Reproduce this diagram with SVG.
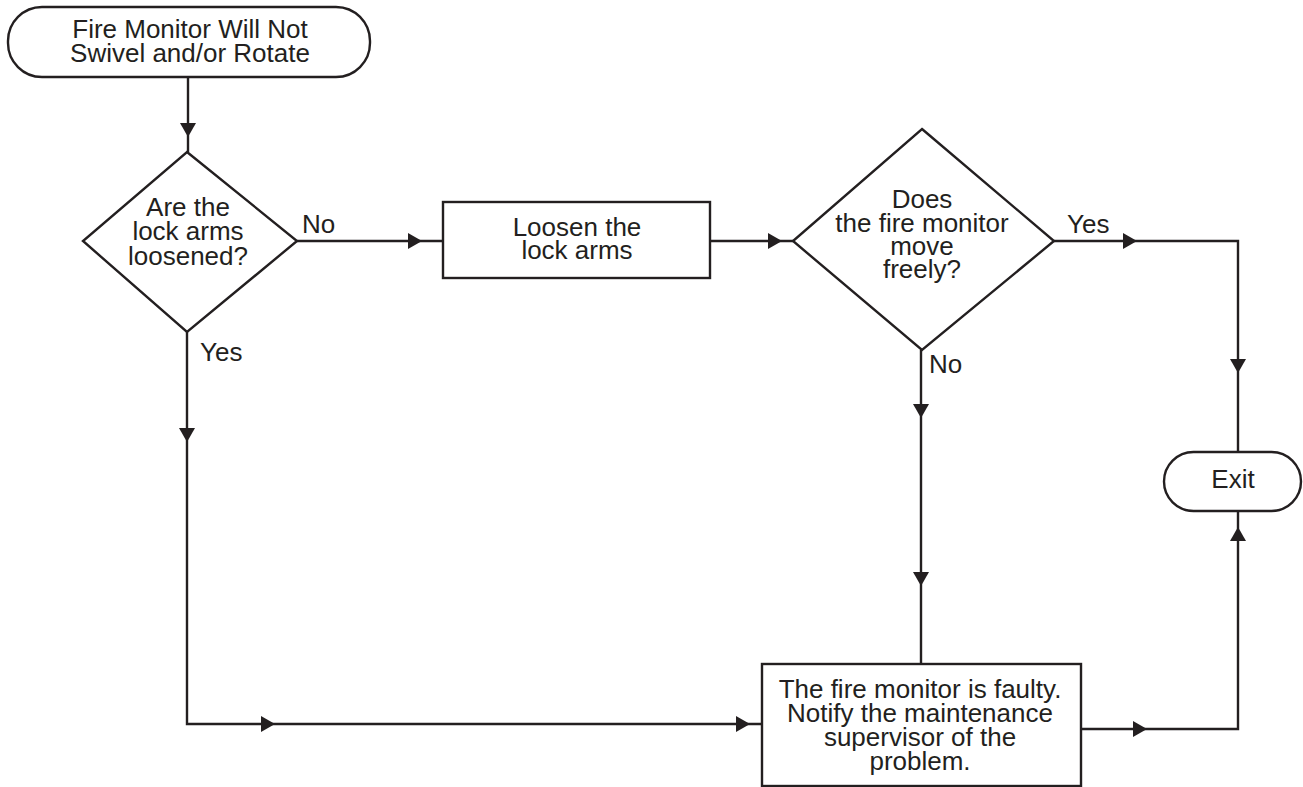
<svg xmlns="http://www.w3.org/2000/svg" xmlns:xlink="http://www.w3.org/1999/xlink" width="1303" height="787" viewBox="0 0 1303 787">
  <style>
    .shape { fill: #ffffff; stroke: #231f20; stroke-width: 2.4; }
    .wire { fill: none; stroke: #231f20; stroke-width: 2.4; }
    .head { fill: #231f20; stroke: none; }
    text { font-family: "Liberation Sans", Arial, Helvetica, sans-serif; font-size: 26px; fill: #231f20; }
    .c { text-anchor: middle; }
  </style>
  <defs>
    <!-- arrowhead pointing right, tip at the origin -->
    <path id="ah" d="M0,0 L-14,-8 L-14,8 Z"/>
  </defs>
  <rect width="1303" height="787" fill="#ffffff"/>

  <g id="connectors">
    <path class="wire" d="M188,77 V152"/>
    <path class="wire" d="M297,241 H443"/>
    <path class="wire" d="M710,241 H793"/>
    <path class="wire" d="M1054,241 H1238 V452"/>
    <path class="wire" d="M921,350 V664"/>
    <path class="wire" d="M187,332 V724 H762"/>
    <path class="wire" d="M1081,729 H1238 V511"/>
    <g class="head">
      <use xlink:href="#ah" transform="translate(188,137) rotate(90)"/>
      <use xlink:href="#ah" transform="translate(422,241)"/>
      <use xlink:href="#ah" transform="translate(782,241)"/>
      <use xlink:href="#ah" transform="translate(1137,241)"/>
      <use xlink:href="#ah" transform="translate(1238,373) rotate(90)"/>
      <use xlink:href="#ah" transform="translate(921,418) rotate(90)"/>
      <use xlink:href="#ah" transform="translate(921,586) rotate(90)"/>
      <use xlink:href="#ah" transform="translate(187,442) rotate(90)"/>
      <use xlink:href="#ah" transform="translate(275,724)"/>
      <use xlink:href="#ah" transform="translate(750,724)"/>
      <use xlink:href="#ah" transform="translate(1147,729)"/>
      <use xlink:href="#ah" transform="translate(1238,527) rotate(-90)"/>
    </g>
    <text x="302" y="233">No</text>
    <text x="200" y="361">Yes</text>
    <text x="1067" y="233">Yes</text>
    <text x="929" y="373">No</text>
  </g>

  <g id="start">
    <rect class="shape" x="8" y="7" width="362" height="70" rx="34" ry="34"/>
    <text class="c" x="190" y="38">Fire Monitor Will Not</text>
    <text class="c" x="190" y="62">Swivel and/or Rotate</text>
  </g>

  <g id="check-lock-arms">
    <polygon class="shape" points="187,152 297,241 187,332 83,241"/>
    <text class="c" x="188" y="216">Are the</text>
    <text class="c" x="188" y="240">lock arms</text>
    <text class="c" x="188" y="265">loosened?</text>
  </g>

  <g id="loosen-lock-arms">
    <rect class="shape" x="443" y="202" width="267" height="76"/>
    <text class="c" x="577" y="236">Loosen the</text>
    <text class="c" x="577" y="259">lock arms</text>
  </g>

  <g id="check-moves-freely">
    <polygon class="shape" points="922,129 1054,241 922,350 793,241"/>
    <text class="c" x="922" y="208">Does</text>
    <text class="c" x="922" y="232">the fire monitor</text>
    <text class="c" x="922" y="255">move</text>
    <text class="c" x="922" y="278">freely?</text>
  </g>

  <g id="faulty">
    <rect class="shape" x="762" y="664" width="319" height="122"/>
    <text class="c" x="920" y="698">The fire monitor is faulty.</text>
    <text class="c" x="920" y="722">Notify the maintenance</text>
    <text class="c" x="920" y="746">supervisor of the</text>
    <text class="c" x="920" y="770">problem.</text>
  </g>

  <g id="exit">
    <rect class="shape" x="1164" y="452" width="137" height="59" rx="29.5" ry="29.5"/>
    <text class="c" x="1233" y="488">Exit</text>
  </g>
</svg>
